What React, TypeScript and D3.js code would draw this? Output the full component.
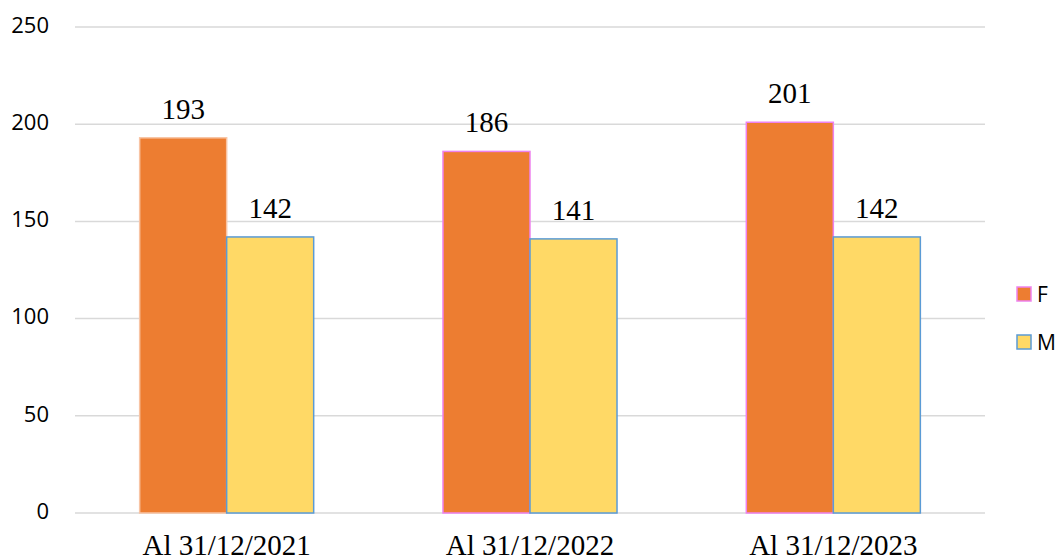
import React from "react";
import * as d3 from "d3";

const categories = ["Al 31/12/2021", "Al 31/12/2022", "Al 31/12/2023"];
const seriesNames = ["F", "M"];
const valuesF = [193, 186, 201];
const valuesM = [142, 141, 142];
const yTicks = [0, 50, 100, 150, 200, 250];
// outline colour of each F bar differs in the original
const strokeF = ["#f8c4a4", "#ee82ee", "#ee82ee"];

const W = 1060;
const H = 560;
const left = 75;
const right = 985;
const top = 27;
const bottom = 513;

const App = () => {
    const x = d3.scaleBand().domain(categories).range([left, right]).paddingInner(0).paddingOuter(0);
    const inner = d3.scaleBand().domain(seriesNames).range([0, x.bandwidth()]).paddingInner(0).paddingOuter(0.743);
    const y = d3.scaleLinear().domain([0, 250]).range([bottom, top]);

    const fill = { F: "#ed7d31", M: "#ffd966" };
    const serif = "'Liberation Serif', serif";
    const sans = "'Open Sans', sans-serif";

    return (
        <svg width={W} height={H} style={{ position: "absolute", left: 0, top: 0 }}>
            {yTicks.map((t) => (
                <g key={t}>
                    <line x1={left} x2={right} y1={y(t)} y2={y(t)} stroke="#d9d9d9" strokeWidth={1.5} />
                    <text x={49} y={y(t) - 2} dy="0.35em" textAnchor="end" fontFamily={sans} fontSize={22} fill="#000">
                        {t}
                    </text>
                </g>
            ))}
            {categories.map((c, i) => {
                const bx = x(c)!;
                const items = [
                    { s: "F", v: valuesF[i], stroke: strokeF[i] },
                    { s: "M", v: valuesM[i], stroke: "#5b9bd5" },
                ];
                return (
                    <g key={c}>
                        {items.map((d) => {
                            const xx = bx + inner(d.s)!;
                            return (
                                <g key={d.s}>
                                    <rect
                                        x={xx}
                                        y={y(d.v)}
                                        width={inner.bandwidth()}
                                        height={bottom - y(d.v)}
                                        fill={fill[d.s]}
                                        stroke={d.stroke}
                                        strokeWidth={1.5}
                                    />
                                    <text
                                        x={xx + inner.bandwidth() / 2}
                                        y={y(d.v) - 19}
                                        textAnchor="middle"
                                        fontFamily={serif}
                                        fontSize={29}
                                        fill="#000"
                                    >
                                        {d.v}
                                    </text>
                                </g>
                            );
                        })}
                        <text
                            x={bx + x.bandwidth() / 2}
                            y={555}
                            textAnchor="middle"
                            fontFamily={serif}
                            fontSize={29}
                            fill="#000"
                        >
                            {c}
                        </text>
                    </g>
                );
            })}
            {seriesNames.map((s, i) => (
                <g key={s} transform={`translate(1017, ${287 + i * 48})`}>
                    <rect x={0} y={0} width={14} height={14} fill={fill[s]} stroke={s === "F" ? "#ee82ee" : "#5b9bd5"} strokeWidth={1.5} />
                    <text x={20} y={7} dy="0.36em" fontFamily={sans} fontSize={21} fill="#000">
                        {s}
                    </text>
                </g>
            ))}
        </svg>
    );
};

export default App;
